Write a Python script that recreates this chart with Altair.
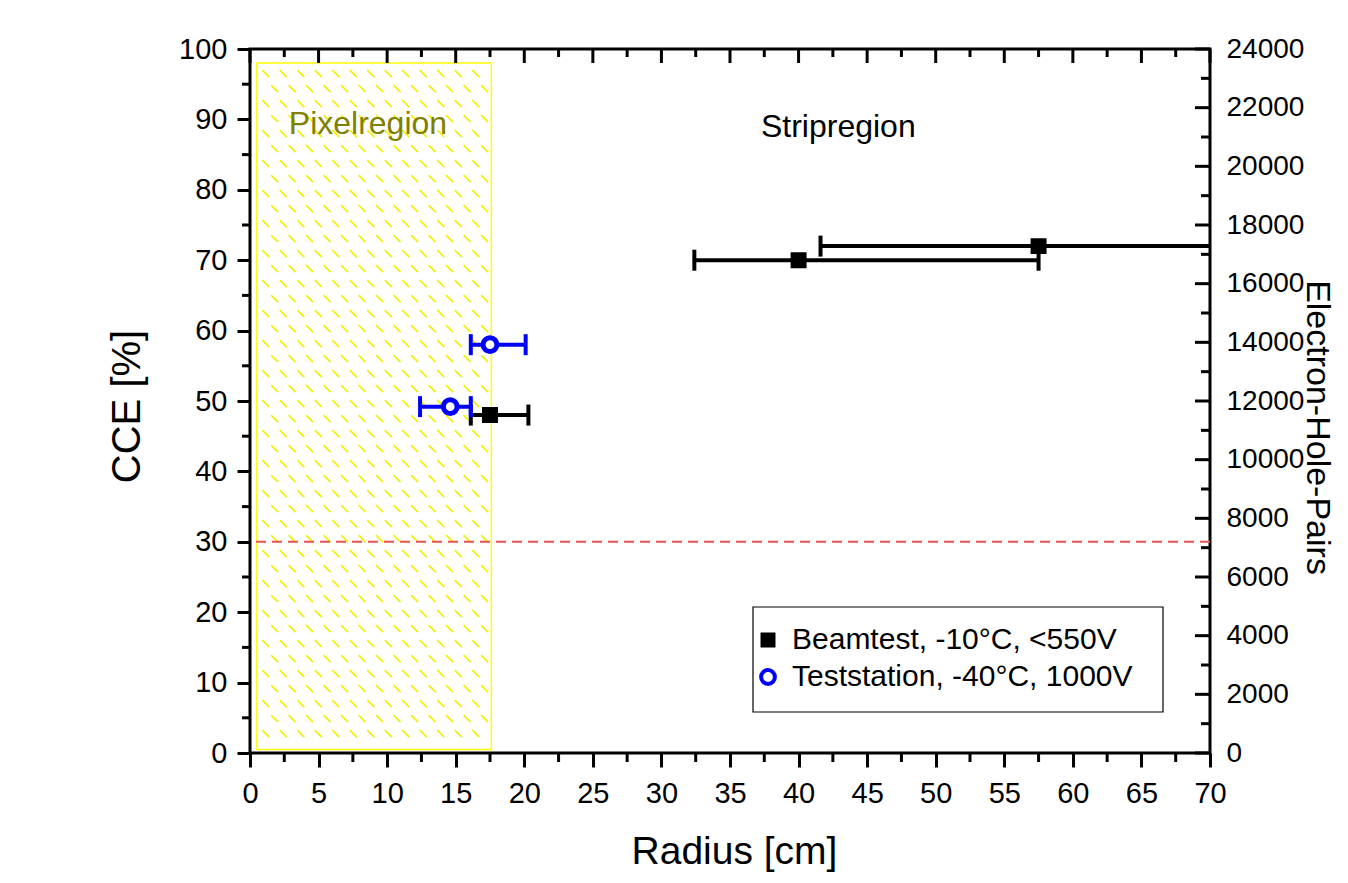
import altair as alt
import pandas as pd

# ---------------- data ----------------
series_names = ["Beamtest, -10°C, <550V", "Teststation, -40°C, 1000V"]
series_stroke = ["black", "#0000ff"]
series_fill = ["black", "white"]
series_shape = ["square", "circle"]

beam_r = [17.5, 40.0, 57.5]
beam_cce = [48.0, 70.0, 72.0]
beam_rlo = [16.1, 32.4, 41.6]
beam_rhi = [20.3, 57.5, 75.0]

test_r = [17.5, 14.6]
test_cce = [58.0, 49.2]
test_rlo = [16.1, 12.4]
test_rhi = [20.1, 16.1]

threshold_cce = [30]

pixel_region_r = [0.5, 17.6]
pixel_region_cce = [0.5, 98.0]

region_labels = ["Pixelregion", "Stripregion"]
region_label_r = [8.6, 42.9]
region_label_cce = [89.3, 88.9]
region_label_colors = ["#808000", "black"]

x_ticks = list(range(0, 71, 5))
x_minor = [2.5 + 5 * i for i in range(14)]
y_ticks = list(range(0, 101, 10))
y_minor = [5 + 10 * i for i in range(10)]
y2_ticks = list(range(0, 24001, 2000))
y2_minor = list(range(1000, 24000, 2000))

# ---------------- layout ----------------
W, H = 960, 704
FONT = "Liberation Sans"

xs = alt.Scale(domain=[0, 70], nice=False, zero=False)
ys = alt.Scale(domain=[0, 100], nice=False, zero=False)
y2s = alt.Scale(domain=[0, 24000], nice=False, zero=False)

AX_X = alt.Axis(
    values=x_ticks, tickSize=14, tickWidth=3, tickColor="black", domain=False, grid=False,
    labelFontSize=29, labelFont=FONT, labelColor="black", labelPadding=12,
    labelFlush=False, labelOverlap=False,
    title="Radius [cm]", titleFontSize=39, titleFont=FONT, titleFontWeight="normal",
    titleColor="black", titleX=484, titleY=110, titleBaseline="alphabetic", titleAlign="center",
)
AX_Y = alt.Axis(
    values=y_ticks, tickSize=13, tickWidth=3, tickColor="black", domain=False, grid=False,
    labelFontSize=29, labelFont=FONT, labelColor="black", labelPadding=10,
    labelFlush=False, labelOverlap=False,
    title="CCE [%]", titleFontSize=40, titleFont=FONT, titleFontWeight="normal",
    titleColor="black", titleX=-111, titleY=357, titleAngle=270,
    titleBaseline="alphabetic", titleAlign="center",
)
AX_Y2 = alt.Axis(
    orient="right", values=y2_ticks, ticks=False, domain=False, grid=False, format="d",
    labelFontSize=28, labelFont=FONT, labelColor="black", labelPadding=16,
    labelFlush=False, labelOverlap=False,
    title="Electron-Hole-Pairs", titleFontSize=34, titleFont=FONT, titleFontWeight="normal",
    titleColor="black", titleX=96, titleY=378, titleAngle=90,
    titleBaseline="alphabetic", titleAlign="center",
)

pts = pd.DataFrame({
    "r": beam_r + test_r,
    "cce": beam_cce + test_cce,
    "lo": beam_rlo + test_rlo,
    "hi": beam_rhi + test_rhi,
    "series": [series_names[0]] * len(beam_r) + [series_names[1]] * len(test_r),
    "col": [series_stroke[0]] * len(beam_r) + [series_stroke[1]] * len(test_r),
})
caps = pd.concat([
    pts[["lo", "cce", "col"]].rename(columns={"lo": "cap"}),
    pts[["hi", "cce", "col"]].rename(columns={"hi": "cap"}),
])

# hatch pattern for pixel region (decoration only)
sx, sy = W / 70.0, H / 100.0
hatch = []
step_x, step_y = 17.5 / sx, 15.0 / sy
seg_dx, seg_dy = 7.0 / sx, 7.0 / sy
row = 0
yy = pixel_region_cce[1] - 1.0
while yy - seg_dy > pixel_region_cce[0]:
    xx = pixel_region_r[0] + 0.4 + (step_x / 2 if row % 2 else 0)
    while xx + seg_dx < pixel_region_r[1]:
        hatch.append({"x": xx, "y": yy, "x2": xx + seg_dx, "y2": yy - seg_dy})
        xx += step_x
    yy -= step_y
    row += 1
hatch = pd.DataFrame(hatch)

region = alt.Chart(pd.DataFrame({
    "x0": [pixel_region_r[0]], "x1": [pixel_region_r[1]],
    "y0": [pixel_region_cce[0]], "y1": [pixel_region_cce[1]],
})).mark_rect(fill="white", stroke="#ffff00", strokeWidth=1.5).encode(
    x=alt.X("x0:Q", scale=xs, axis=AX_X), x2="x1:Q",
    y=alt.Y("y0:Q", scale=ys, axis=AX_Y), y2="y1:Q",
)

hatch_layer = alt.Chart(hatch).mark_rule(color="#f0f000", strokeWidth=1.6).encode(
    x=alt.X("x:Q", scale=xs, axis=AX_X), x2="x2:Q",
    y=alt.Y("y:Q", scale=ys, axis=AX_Y), y2="y2:Q",
)

thr = alt.Chart(pd.DataFrame({"t": threshold_cce})).mark_rule(
    color="#f25050", strokeDash=[10, 6], strokeWidth=2
).encode(y=alt.Y("t:Q", scale=ys, axis=AX_Y))

bars = alt.Chart(pts).mark_rule(strokeWidth=4, clip=True, opacity=1).encode(
    x=alt.X("lo:Q", scale=xs, axis=AX_X), x2="hi:Q",
    y=alt.Y("cce:Q", scale=ys, axis=AX_Y),
    color=alt.Color("col:N", scale=None),
)

cap_layer = alt.Chart(caps).mark_tick(orient="vertical", thickness=4, size=21, clip=True, opacity=1).encode(
    x=alt.X("cap:Q", scale=xs, axis=AX_X),
    y=alt.Y("cce:Q", scale=ys, axis=AX_Y),
    color=alt.Color("col:N", scale=None),
)

leg = alt.Legend(
    title=None, orient="none", legendX=503, legendY=576,
    labelFontSize=30, labelFont=FONT, labelColor="black", labelLimit=500,
    symbolStrokeWidth=4, rowPadding=7, padding=0,
    labelOffset=9, strokeColor="transparent",
)

points = alt.Chart(pts).mark_point(strokeWidth=5, opacity=1).encode(
    x=alt.X("r:Q", scale=xs, axis=AX_X),
    y=alt.Y("cce:Q", scale=ys, axis=AX_Y),
    shape=alt.Shape("series:N", scale=alt.Scale(domain=series_names, range=series_shape), legend=leg),
    fill=alt.Fill("series:N", scale=alt.Scale(domain=series_names, range=series_fill), legend=leg),
    stroke=alt.Stroke("series:N", scale=alt.Scale(domain=series_names, range=series_stroke), legend=leg),
    size=alt.Size("series:N", scale=alt.Scale(domain=series_names, range=[120, 190]), legend=leg),
)

labels = alt.Chart(pd.DataFrame({
    "txt": region_labels, "r": region_label_r, "cce": region_label_cce, "c": region_label_colors,
})).mark_text(fontSize=32, font=FONT, align="center", baseline="middle").encode(
    x=alt.X("r:Q", scale=xs, axis=AX_X),
    y=alt.Y("cce:Q", scale=ys, axis=AX_Y),
    text="txt:N",
    color=alt.Color("c:N", scale=None),
)

legend_box = alt.Chart(pd.DataFrame({"a": [0]})).mark_rect(
    fill="white", stroke="black", strokeWidth=1.2
).encode(x=alt.value(503), x2=alt.value(913), y=alt.value(558), y2=alt.value(663))

top_major = alt.Chart(pd.DataFrame({"v": x_ticks})).mark_rule(color="black", strokeWidth=3).encode(
    x=alt.X("v:Q", scale=xs, axis=AX_X), y=alt.value(0), y2=alt.value(14))
top_minor = alt.Chart(pd.DataFrame({"v": x_minor})).mark_rule(color="black", strokeWidth=3).encode(
    x=alt.X("v:Q", scale=xs, axis=AX_X), y=alt.value(0), y2=alt.value(8))
bot_minor = alt.Chart(pd.DataFrame({"v": x_minor})).mark_rule(color="black", strokeWidth=3).encode(
    x=alt.X("v:Q", scale=xs, axis=AX_X), y=alt.value(H), y2=alt.value(H + 9))
left_minor = alt.Chart(pd.DataFrame({"v": y_minor})).mark_rule(color="black", strokeWidth=3).encode(
    y=alt.Y("v:Q", scale=ys, axis=AX_Y), x=alt.value(0), x2=alt.value(-8))

main = alt.layer(region, hatch_layer, thr, bars, cap_layer, legend_box, points, labels,
                 top_major, top_minor, bot_minor, left_minor)

right_major = alt.Chart(pd.DataFrame({"v": y2_ticks})).mark_rule(color="black", strokeWidth=3).encode(
    y=alt.Y("v:Q", scale=y2s, axis=AX_Y2),
    x=alt.value(W), x2=alt.value(W - 15),
)
right_minor = alt.Chart(pd.DataFrame({"v": y2_minor})).mark_rule(color="black", strokeWidth=3).encode(
    y=alt.Y("v:Q", scale=y2s, axis=AX_Y2), x=alt.value(W), x2=alt.value(W - 9),
)
right = alt.layer(right_major, right_minor)

chart = alt.layer(main, right).resolve_scale(y="independent").properties(
    width=W, height=H,
    autosize=alt.AutoSizeParams(type="none"),
    padding={"left": 242, "top": 41, "right": 130, "bottom": 122},
).configure(font=FONT).configure_view(stroke="black", strokeWidth=3)

chart.save("out.html", embed_options={"renderer": "svg", "actions": False})
